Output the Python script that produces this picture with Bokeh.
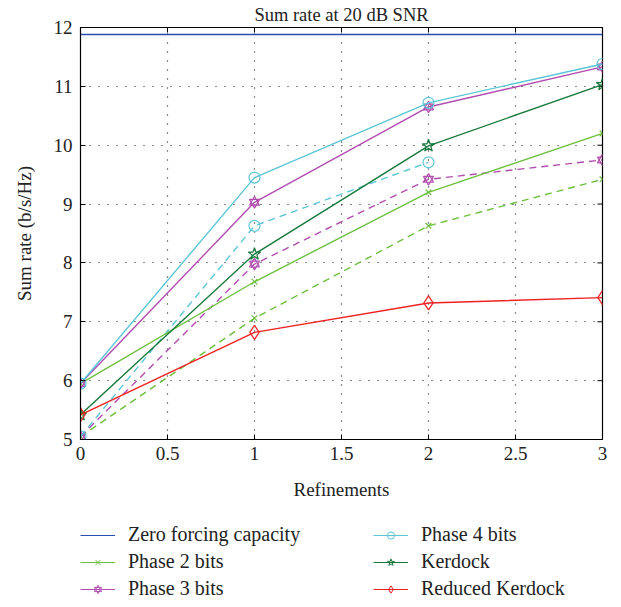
import math
from bokeh.plotting import figure
from bokeh.layouts import column
from bokeh.models import Legend, LegendItem, FixedTicker, Range1d
from bokeh.embed import file_html
from bokeh.resources import INLINE

# ---- data ----
refinements = [0, 1, 2, 3]
refinements_short = [0, 1, 2]
zf_x = [0, 3]
zero_forcing = [11.88, 11.88]
phase2 = [5.95, 7.68, 9.20, 10.20]
phase2_dashed = [5.05, 7.06, 8.63, 9.42]
phase3 = [5.95, 9.03, 10.65, 11.33]
phase3_dashed = [5.05, 7.98, 9.42, 9.75]
phase4 = [5.95, 9.45, 10.72, 11.38]
phase4_dashed = [5.05, 8.63, 9.71]
kerdock = [5.42, 8.15, 9.99, 11.03]
reduced_kerdock = [5.42, 6.82, 7.32, 7.41]
x_ticks = [0, 0.5, 1, 1.5, 2, 2.5, 3]
y_ticks = [5, 6, 7, 8, 9, 10, 11, 12]
legend_labels = ["Zero forcing capacity", "Phase 2 bits", "Phase 3 bits",
                 "Phase 4 bits", "Kerdock", "Reduced Kerdock"]

FONT = "Liberation Serif"
C_BLUE = "#2B4CB0"
C_LGREEN = "#6DC03F"
C_MAG = "#B24DB0"
C_CYAN = "#5CC6D6"
C_DGREEN = "#16783A"
C_RED = "#F02020"

p = figure(width=613, height=508, output_backend="svg", toolbar_location=None,
           x_range=Range1d(0, 3), y_range=Range1d(5, 12),
           min_border_left=80, min_border_right=11, min_border_top=27,
           min_border_bottom=69)

p.title.text = "Sum rate at 20 dB SNR"
p.title.align = "center"
p.title.text_font = FONT
p.title.text_font_size = "18.5px"
p.title.text_font_style = "normal"
p.title.text_color = "#222222"
p.title.standoff = 5
p.title.offset = 0

p.outline_line_color = "black"
p.outline_line_width = 1.2
p.background_fill_color = "white"
p.border_fill_color = "white"

for ax in (p.xaxis[0], p.yaxis[0]):
    ax.major_tick_in = 5
    ax.major_tick_out = 0
    ax.minor_tick_line_color = None
    ax.axis_line_color = "black"
    ax.major_tick_line_color = "black"
    ax.major_label_text_font = FONT
    ax.major_label_text_font_size = "19px"
    ax.major_label_text_color = "#222222"
    ax.axis_label_text_font = FONT
    ax.axis_label_text_font_size = "19px"
    ax.axis_label_text_font_style = "normal"
    ax.axis_label_text_color = "#222222"

p.xaxis.ticker = FixedTicker(ticks=x_ticks)
p.yaxis.ticker = FixedTicker(ticks=y_ticks)
p.xaxis.major_label_overrides = {0: "0", 1: "1", 2: "2", 3: "3"}
p.xaxis.axis_label = "Refinements"
p.yaxis.axis_label = "Sum rate (b/s/Hz)"
p.xaxis.major_label_standoff = 7
p.xaxis.axis_label_standoff = 16
p.yaxis.major_label_standoff = 8
p.yaxis.axis_label_standoff = 16

# inward ticks on the top and right frame edges
p.ray(x=x_ticks, y=[12] * len(x_ticks), length=5, length_units="screen",
      angle=-math.pi / 2, line_color="black", line_width=1)
p.ray(x=[3] * len(y_ticks), y=y_ticks, length=5, length_units="screen",
      angle=math.pi, line_color="black", line_width=1)

p.xgrid.ticker = FixedTicker(ticks=x_ticks[1:-1])
p.ygrid.ticker = FixedTicker(ticks=y_ticks[1:-1])
for g in (p.xgrid[0], p.ygrid[0]):
    g.grid_line_color = "black"
    g.grid_line_dash = "1 8"
    g.grid_line_width = 1.2
    g.grid_line_alpha = 0.9

LW = 1.4
STY = {
    "zf": dict(color=C_BLUE, marker=None),
    "p2": dict(color=C_LGREEN, marker=["x"], size=8),
    "p3": dict(color=C_MAG, marker=["triangle", "inverted_triangle"], size=10),
    "p4": dict(color=C_CYAN, marker=["circle"], size=11),
    "kd": dict(color=C_DGREEN, marker=["star"], size=13),
    "rk": dict(color=C_RED, marker=["diamond"], size=14),
}


def series(fig, key, xs, ys, dash="solid", lw=LW, mlw=1.2):
    st = STY[key]
    rs = [fig.line(xs, ys, line_color=st["color"], line_width=lw, line_dash=dash)]
    for mk in (st["marker"] or []):
        rs.append(fig.scatter(xs, ys, marker=mk, size=st["size"], line_color=st["color"],
                              fill_color=None, line_width=mlw))
    return rs


series(p, "zf", zf_x, zero_forcing)
series(p, "p2", refinements, phase2_dashed, "7 5")
series(p, "p3", refinements, phase3_dashed, "7 5")
series(p, "p4", refinements_short, phase4_dashed, "7 5")
series(p, "p2", refinements, phase2)
series(p, "p3", refinements, phase3)
series(p, "p4", refinements, phase4)
series(p, "kd", refinements, kerdock)
series(p, "rk", refinements, reduced_kerdock)

# legend panel below the plot (legend proxies hold no visible data)
q = figure(width=613, height=91, output_backend="svg", toolbar_location=None,
           x_axis_type=None, y_axis_type=None, x_range=Range1d(0, 1), y_range=Range1d(0, 1),
           min_border=0, outline_line_color=None)
q.grid.visible = False
nan = float("nan")
items = []
for key, lab in zip(["zf", "p2", "p3", "p4", "kd", "rk"], legend_labels):
    items.append(LegendItem(label=lab, renderers=series(q, key, [nan], [nan], lw=1.2, mlw=1.0)))
legend = Legend(items=items, location=(0, -1), orientation="vertical", nrows=3,
                glyph_width=35, glyph_height=18, label_height=20, label_standoff=13,
                label_width=241, spacing=4, padding=0, margin=0,
                label_text_font=FONT, label_text_font_size="20px", label_text_color="#222222",
                border_line_color=None, background_fill_alpha=0)
q.add_layout(legend, "center")

layout = column(p, q, spacing=0)
open("out.html", "w").write(file_html(layout, INLINE))
